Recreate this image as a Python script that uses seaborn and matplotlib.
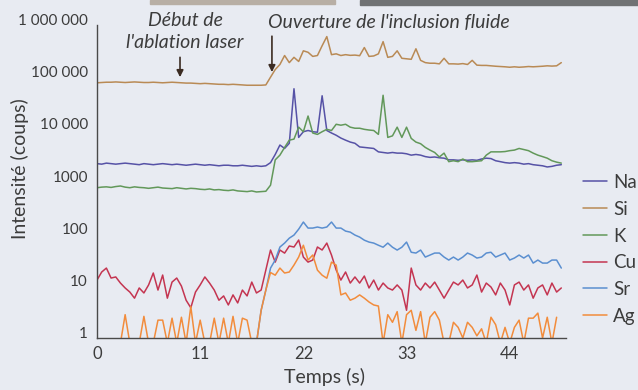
import numpy as np
import pandas as pd
import matplotlib
matplotlib.use("Agg")
import matplotlib.pyplot as plt
from matplotlib.patches import Rectangle
from matplotlib.ticker import FixedLocator, MultipleLocator, NullLocator
import seaborn as sns

# ---------------- data (one point every 0.5 s) ----------------
temps = np.arange(0, 50, 0.5)

na = [2200, 2150, 2250, 2200, 2150, 2200, 2250, 2200, 2150, 2100,
      2200, 2150, 2100, 2150, 2200, 2150, 2100, 2150, 2100, 2050,
      2100, 2150, 2100, 2050, 2100, 2050, 2000, 2050, 2050, 2000,
      2000, 2050, 2000, 1950, 2000, 1950, 2000, 2300, 3300, 5000,
      4300, 5400, 60000, 7000, 9000, 9500, 9000, 8800, 44000, 9500,
      8500, 7700, 6800, 6200, 5700, 5400, 4600, 4500, 4400, 4300,
      3700, 3600, 3500, 3600, 3500, 3500, 3400, 3200, 3300, 3200,
      3000, 2900, 2950, 2850, 2800, 2600, 2600, 2550, 2600, 2550,
      2600, 2550, 2700, 2800, 2750, 2500, 2400, 2300, 2250, 2300,
      2250, 2150, 2200, 2100, 2050, 2000, 1900, 1950, 2050, 2100]

si = [78000, 79000, 80000, 80000, 81000, 80000, 79000, 80000, 81000, 80000,
      79000, 79000, 80000, 79000, 78000, 79000, 80000, 79000, 78000, 77000,
      77000, 76000, 75000, 76000, 75000, 74000, 73000, 73000, 72000, 73000,
      72000, 71000, 70000, 70000, 70000, 70000, 71000, 100000, 140000, 175000,
      260000, 190000, 240000, 200000, 320000, 300000, 250000, 260000, 400000, 600000,
      270000, 280000, 260000, 270000, 262000, 265000, 258000, 370000, 250000, 255000,
      280000, 480000, 240000, 250000, 320000, 230000, 225000, 220000, 350000, 210000,
      190000, 185000, 185000, 180000, 230000, 180000, 180000, 178000, 182000, 175000,
      210000, 170000, 168000, 168000, 165000, 162000, 160000, 158000, 155000, 158000,
      155000, 157000, 160000, 158000, 160000, 162000, 165000, 163000, 165000, 190000]

k = [760, 780, 790, 770, 800, 820, 780, 760, 790, 770,
     760, 740, 760, 780, 750, 740, 730, 760, 740, 720,
     740, 730, 710, 700, 720, 690, 700, 680, 670, 690,
     660, 650, 640, 660, 630, 640, 650, 850, 2600, 3200,
     4500, 6200, 6500, 11000, 9000, 18000, 8500, 8000, 9000, 10000,
     9500, 12500, 12000, 12500, 11000, 10500, 10500, 10000, 9700, 9500,
     8000, 45000, 7000, 7500, 11000, 7000, 11000, 6700, 5700, 5300,
     4500, 4000, 3600, 2950, 3500, 2400, 2500, 2400, 2700, 2400,
     2400, 2450, 2500, 3200, 3700, 3700, 3700, 3750, 3900, 4000,
     4300, 4100, 3900, 3500, 3200, 3000, 2800, 2500, 2350, 2250]

cu = [12.9, 18.4, 21.9, 14.1, 14.8, 11.3, 9.1, 7.6, 5.8, 9.1,
      7.3, 10.4, 17.6, 8.3, 16.1, 5.8, 11.8, 14.1, 9.9, 5.3,
      3.8, 7.6, 10.4, 14.8, 11.3, 8.3, 5.3, 6.4, 4.3, 6.7,
      4.7, 8.3, 6.4, 11.8, 7.3, 8.3, 20.1, 48.6, 28.5, 48.6,
      42.4, 58, 55.5, 75.5, 35.6, 28.5, 31.2, 55.5, 48.6, 66,
      38.9, 20.1, 12.9, 18.4, 11.3, 14.8, 11.3, 15.4, 9.1, 12.9,
      8.3, 11.3, 9.1, 8.3, 10.4, 8.3, 3.4, 21.9, 10.4, 8.3,
      11.3, 9.1, 11.8, 8.3, 5.8, 8.3, 11.8, 10.4, 12.9, 9.1,
      10.4, 16.1, 7.6, 11.3, 9.5, 6.7, 11.3, 8.3, 4.3, 10.4,
      11.8, 8.3, 10.4, 5.8, 9.1, 10.4, 6.7, 11.3, 7.6, 9.1]

# 0.8 = no counts (falls below the "1" line of the log axis)
sr = [0.8] * 35 + [3.4, 8.3, 21.9, 31.2, 55.4,
      66, 82, 94, 122, 167, 128, 128, 134, 128, 134,
      167, 128, 128, 112, 107, 94, 86, 75, 69, 66,
      60, 55, 66, 55, 48.5, 55, 69, 44, 42.5, 48.5,
      35.6, 38.9, 42.5, 42.5, 35.6, 31.2, 35.6, 31.2, 35.6, 42.5,
      38.9, 34.1, 35.6, 42.5, 44, 35.6, 38.9, 42.5, 31.2, 34.1,
      38.9, 34.1, 38.9, 27.3, 31.2, 27.3, 27.3, 31.2, 31.2, 21.9]

ag = [0.8, 0.8, 0.8, 0.8, 0.8, 0.8, 2.8, 0.8, 0.8, 0.8,
      2.6, 0.8, 0.8, 2.2, 2.2, 0.8, 2.4, 0.8, 2.5, 0.8,
      4.0, 0.8, 2.2, 0.8, 0.8, 2.4, 0.8, 2.4, 0.8, 2.6,
      0.8, 2.4, 2.2, 0.8, 0.8, 3.4, 8.3, 18, 16, 21.9,
      17.6, 18.4, 25, 35.6, 60, 31.2, 39, 20, 16, 14,
      28.5, 25, 6.7, 7.3, 5.3, 5.8, 6.7, 5.8, 4.9, 4.3,
      4.1, 0.8, 2.8, 2.0, 3.2, 0.8, 2.8, 3.4, 1.4, 3.2,
      0.8, 2.5, 3.2, 2.2, 0.8, 0.8, 2.0, 1.6, 1.0, 2.0,
      1.6, 1.1, 1.5, 0.8, 2.5, 1.8, 0.8, 1.6, 0.8, 1.6,
      2.2, 0.8, 2.4, 2.4, 3.0, 1.0, 2.5, 0.8, 2.5, np.nan]

elements = ["Na", "Si", "K", "Cu", "Sr", "Ag"]
colors = ["#5652a6", "#b98a55", "#62985a", "#c43551", "#5b8fd0", "#f28c3c"]

y_ticks = [1, 10, 100, 1000, 10000, 100000, 1000000]
y_labels = ["1", "10", "100", "1000", "10 000", "100 000", "1 000 000"]
x_ticks = [0, 11, 22, 33, 44]

df = pd.DataFrame({
    "Temps": np.tile(temps, len(elements)),
    "Intensite": np.concatenate([na, si, k, cu, sr, ag]),
    "Element": np.repeat(elements, len(temps)),
})

# ---------------- figure ----------------
sns.set_style("white")
plt.rcParams["font.family"] = ["Lato", "DejaVu Sans"]
bg = "#e8ebf2"
ink = "#3c3c3c"

fig = plt.figure(figsize=(6.38, 3.90), dpi=100, facecolor=bg)
ax = fig.add_axes([97 / 638, 1 - 338 / 390, (566 - 97) / 638, (338 - 25) / 390])
ax.set_facecolor(bg)
ax.set_yscale("log")

sns.lineplot(data=df, x="Temps", y="Intensite", hue="Element", hue_order=elements,
             palette=colors, estimator=None, linewidth=1.1, ax=ax)

ax.set_xlim(0, 50)
ax.set_ylim(1, 1e6)

ax.yaxis.set_major_locator(FixedLocator(y_ticks))
ax.yaxis.set_minor_locator(NullLocator())
ax.set_yticklabels(y_labels)
ax.xaxis.set_major_locator(FixedLocator(x_ticks))
ax.xaxis.set_minor_locator(MultipleLocator(2.2))

for side in ["top", "right"]:
    ax.spines[side].set_visible(False)
for side in ["left", "bottom"]:
    ax.spines[side].set_color("#4a4a4a")
    ax.spines[side].set_linewidth(1.0)
    ax.spines[side].set_zorder(5)

ax.tick_params(axis="y", which="major", direction="out", length=6, width=1,
               color="#4a4a4a", pad=0.5, labelsize=11, labelcolor=ink)
ax.tick_params(axis="x", which="both", direction="out", length=3.5, width=1,
               color="#4a4a4a", pad=2.5, labelsize=12, labelcolor=ink)
for lbl in ax.get_yticklabels():
    lbl.set_va("baseline")

ax.set_xlabel("Temps (s)", fontsize=14, color=ink)
ax.xaxis.set_label_coords(0.486, -0.095)
ax.set_ylabel("Intensité (coups)", fontsize=14, color=ink)
ax.yaxis.set_label_coords(-0.145, 0.54)

# annotations
arrow = dict(arrowstyle="-|>", color="#3b2b22", lw=1.2, mutation_scale=10,
             shrinkA=0, shrinkB=0)
ax.annotate("", xy=(8.85, 1.0e5), xytext=(8.85, 2.4e5), arrowprops=arrow)
ax.annotate("", xy=(18.65, 1.25e5), xytext=(18.65, 6.1e5), arrowprops=arrow)
ax.text(9.4, 1.23e6, "Début de", ha="center", va="center", fontsize=14,
        style="italic", color=ink, clip_on=False)
ax.text(9.4, 4.6e5, "l'ablation laser", ha="center", va="center", fontsize=14,
        style="italic", color=ink, clip_on=False)
ax.text(18.2, 1.13e6, "Ouverture de l'inclusion fluide", ha="left", va="center",
        fontsize=14, style="italic", color=ink, clip_on=False)

# legend outside on the right
handles, labels = ax.get_legend_handles_labels()
ax.get_legend().remove()
fig.legend(handles, labels, loc="upper left", bbox_to_anchor=(583 / 638, 1 - 174 / 390),
           frameon=False, fontsize=13.5, handlelength=1.3, handletextpad=0.3,
           labelspacing=0.52, borderpad=0, borderaxespad=0, labelcolor=ink)

# scan edges at the top
fig.patches.append(Rectangle((150 / 638, 1 - 4 / 390), 185 / 638, 4 / 390,
                             transform=fig.transFigure, color="#b8afa5", zorder=0))
fig.patches.append(Rectangle((360 / 638, 1 - 5 / 390), 278 / 638, 5 / 390,
                             transform=fig.transFigure, color="#707274", zorder=0))

fig.savefig("out.png", dpi=100, facecolor=bg)
